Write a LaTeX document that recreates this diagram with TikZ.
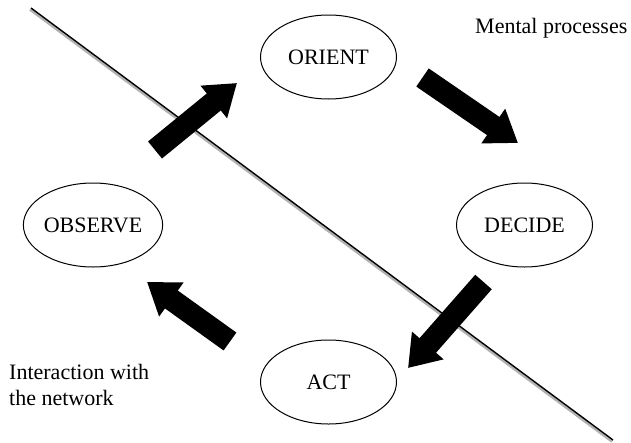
\documentclass[tikz,border=0pt]{standalone}
\usepackage{fontspec}
\setmainfont{Liberation Serif}
\usetikzlibrary{shapes.geometric,arrows.meta}
\begin{document}
\begin{tikzpicture}[x=1pt,y=-1pt,
  stage/.style={ellipse,draw=black,line width=1pt,minimum width=136pt,minimum height=84pt,inner sep=0pt,font=\fontsize{22}{26}\selectfont},
  lbl/.style={inner sep=0pt,font=\fontsize{22}{26}\selectfont},
  blockarrow/.style={line width=22pt,black,-{Triangle[width=40pt,length=30pt]}}]
\useasboundingbox (0,0) rectangle (631,442);
% dividing line
\coordinate (l1) at (31,8);
\coordinate (l2) at (613,440);
\coordinate (g1) at (30,9.5);
\coordinate (g2) at (612,441.5);
\draw[line width=2.6pt,gray!60] (g1) -- (g2);
\draw[line width=1.4pt,black] (l1) -- (l2);
% stages
\node[stage] (orient) at (328.5,57) {ORIENT};
\node[stage] (decide) at (524.5,225) {DECIDE};
\node[stage] (observe) at (93,225) {OBSERVE};
\node[stage] (act) at (328.5,382) {ACT};
% arrow end points
\coordinate (a1s) at (155,150);
\coordinate (a1e) at (237,83);
\coordinate (a2s) at (422.5,77.5);
\coordinate (a2e) at (518,143);
\coordinate (a3s) at (483.5,282);
\coordinate (a3e) at (408,368);
\coordinate (a4s) at (230,341.5);
\coordinate (a4e) at (147,282);
\draw[blockarrow] (a1s) -- (a1e);
\draw[blockarrow] (a2s) -- (a2e);
\draw[blockarrow] (a3s) -- (a3e);
\draw[blockarrow] (a4s) -- (a4e);
% labels
\node[lbl,anchor=base west] (mental) at (475,33) {Mental processes};
\node[lbl,anchor=base west] (inter1) at (9,379) {Interaction with};
\node[lbl,anchor=base west] (inter2) at (9,405) {the network};
\end{tikzpicture}
\end{document}
